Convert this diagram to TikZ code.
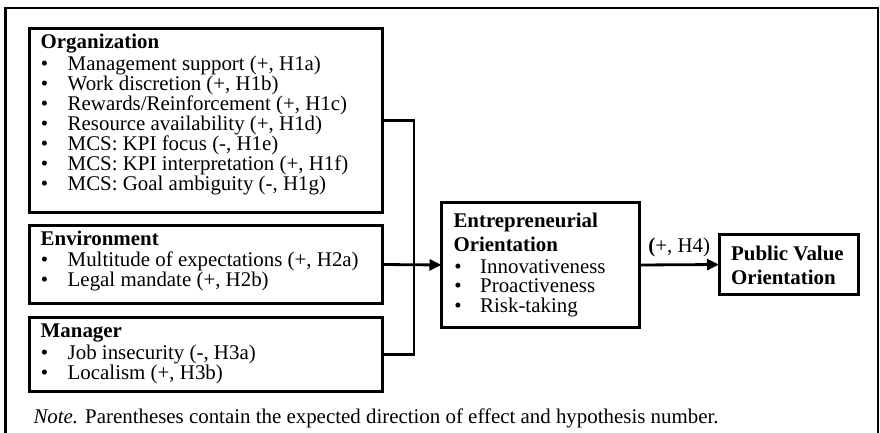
\documentclass[tikz,border=0pt]{standalone}
\usepackage{fontspec}
\setmainfont{Liberation Serif}
\usetikzlibrary{arrows.meta}
\newcommand{\fsz}{\fontsize{20.9pt}{24pt}\selectfont}

\begin{document}
\begin{tikzpicture}[x=1pt,y=-1pt,
  box/.style={draw, line width=3pt, inner sep=0pt, outer sep=0pt, anchor=north west},
  head/.style={anchor=base west, inner sep=0pt, font=\fsz\bfseries},
  item/.style={anchor=base west, inner sep=0pt, font=\fsz},
  dot/.style={anchor=base, inner sep=0pt, font=\fsz},
  conn/.style={line width=2.8pt, line join=miter},
  arr/.style={conn, -{Triangle[length=12pt,width=11pt]}},
]
\useasboundingbox (0,0) rectangle (880,433);

% open frame around the figure
\draw[line width=2.6pt, line join=miter] (5.3,433) -- (5.3,8) -- (878,8) -- (878,433);

% antecedent boxes
\node[box, minimum width=353pt, minimum height=183pt] (org) at (29,29) {};
\node[box, minimum width=353pt, minimum height=78pt] (env) at (29,225.5) {};
\node[box, minimum width=353pt, minimum height=74pt] (mgr) at (29,317.5) {};

% outcome boxes
\node[box, minimum width=198pt, minimum height=125pt] (eo) at (441.5,202.5) {};
\node[box, minimum width=139pt, minimum height=60pt] (pvo) at (719,234.5) {};

% Organization
\node[head] (orgh) at (40.5,49) {Organization};
\foreach \t [count=\i, evaluate=\i as \yy using 70.5+(\i-1)*20] in
  {{Management support (+, H1a)},
   {Work discretion (+, H1b)},
   {Rewards/Reinforcement (+, H1c)},
   {Resource availability (+, H1d)},
   {MCS: KPI focus (-, H1e)},
   {MCS: KPI interpretation (+, H1f)},
   {MCS: Goal ambiguity (-, H1g)}} {
  \node[dot] (ob\i) at (44.5,\yy) {•};
  \node[item] (ot\i) at (67.5,\yy) {\t};
}

% Environment
\node[head] (envh) at (40.5,245) {Environment};
\node[dot] (eb1) at (44.5,266.5) {•};
\node[item] (et1) at (67.5,266.5) {Multitude of expectations (+, H2a)};
\node[dot] (eb2) at (44.5,286) {•};
\node[item] (et2) at (67.5,286) {Legal mandate (+, H2b)};

% Manager
\node[head] (mgrh) at (40.5,337) {Manager};
\node[dot] (mb1) at (44.5,359) {•};
\node[item] (mt1) at (67.5,359) {Job insecurity (-, H3a)};
\node[dot] (mb2) at (44.5,379) {•};
\node[item] (mt2) at (67.5,379) {Localism (+, H3b)};

% Entrepreneurial orientation
\node[head] (eoh1) at (453.3,227.5) {Entrepreneurial};
\node[head] (eoh2) at (453.3,251) {Orientation};
\foreach \t [count=\i, evaluate=\i as \yy using 273+(\i-1)*19.5] in
  {Innovativeness, Proactiveness, Risk-taking} {
  \node[dot] (qb\i) at (458,\yy) {•};
  \node[item] (qt\i) at (480,\yy) {\t};
}

% Public value orientation
\node[head] (pvh1) at (731,260) {Public Value};
\node[head] (pvh2) at (731,284.3) {Orientation};

% connectors
\coordinate (bus) at (414,0);
\draw[conn] (org.east) -- (org.east -| bus) -- (mgr.east -| bus) -- (mgr.east);
\draw[arr] (env.east) -- (eo.west);
\draw[arr] (eo.east) -- node[midway, anchor=base, yshift=12.5pt, inner sep=0pt, font=\fsz] (h4) {\textbf{(}+, H4)} (pvo.west);

% note
\node[item] (note) at (33.3,423.3) {\textit{Note.} Parentheses contain the expected direction of effect and hypothesis number.};
\end{tikzpicture}
\end{document}
